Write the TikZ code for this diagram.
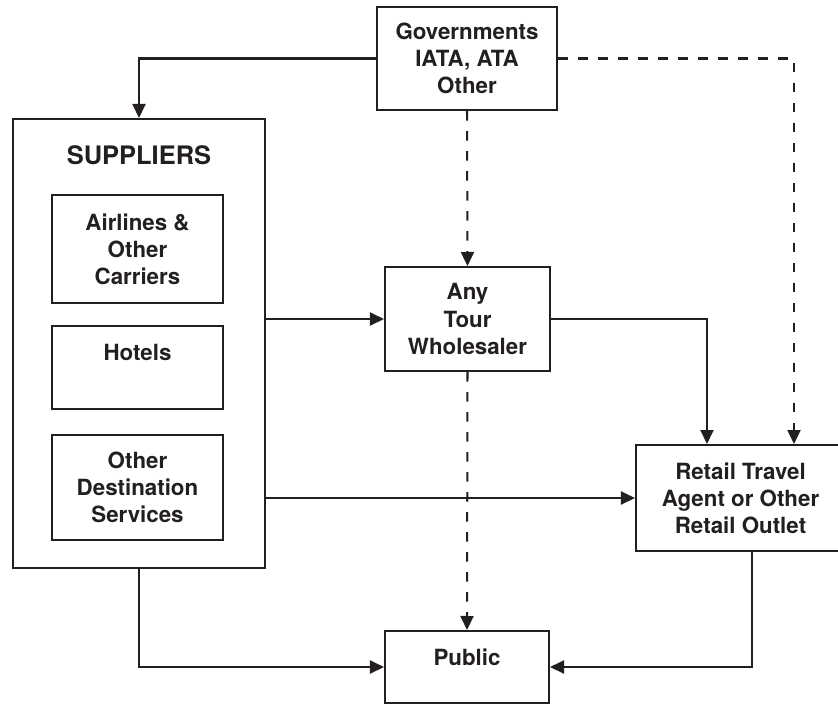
\documentclass[tikz,border=0pt]{standalone}
\usepackage{fontspec}
\setmainfont{TeX Gyre Heros}
\usetikzlibrary{arrows.meta}
\definecolor{ink}{RGB}{35,31,32}

\begin{document}
\begin{tikzpicture}[color=ink,line width=1.15pt]
\useasboundingbox (0,0) rectangle (16.76,-14.1);
\tikzstyle{arr}=[-{Triangle[length=0.28cm,width=0.26cm]}];
\tikzstyle{dashline}=[dash pattern=on 0.19cm off 0.21cm];
\tikzstyle{every node}=[draw,shape=rectangle,align=center,font=\bfseries\fontsize{12.7}{15.4}\selectfont];
\node[minimum width=3.6cm,minimum height=2.06cm] (gov) at (9.34,-1.17) {Governments\\IATA, ATA\\Other};
\node[minimum width=5.04cm,minimum height=8.98cm] (sup) at (2.78,-6.87) {};
\node[minimum width=3.42cm,minimum height=2.16cm] (air) at (2.75,-4.98) {Airlines \&\\Other\\Carriers};
\node[minimum width=3.42cm,minimum height=1.66cm] (hot) at (2.75,-7.35) {Hotels\\[2pt]\mbox{}};
\node[minimum width=3.42cm,minimum height=2.10cm] (oth) at (2.75,-9.75) {Other\\Destination\\Services};
\node[minimum width=3.3cm,minimum height=2.08cm] (whl) at (9.35,-6.38) {Any\\Tour\\Wholesaler};
\node[minimum width=4.18cm,minimum height=2.12cm] (ret) at (14.81,-9.96) {Retail Travel\\Agent or Other\\Retail Outlet};
\node[minimum width=3.28cm,minimum height=1.44cm] (pub) at (9.34,-13.34) {Public\\[-4pt]\mbox{}};
\tikzstyle{every node}=[];
\node[font=\bfseries\fontsize{14.5}{17}\selectfont] (suptitle) at (2.78,-3.10) {SUPPLIERS};
\draw[arr] (gov.west) -| (sup.north);
\draw[arr,dashline] (gov.south) -- (whl.north);
\draw[arr,dashline] (gov.east) -| ([xshift=-1.04cm]ret.north east);
\draw[arr] (whl.east) -| ([xshift=1.44cm]ret.north west);
\draw[arr] (sup.east |- whl.west) -- (whl.west);
\draw[arr] (sup.east |- ret.west) -- (ret.west);
\draw[arr,dashline] (whl.south) -- (pub.north);
\draw[arr] (sup.south) |- (pub.west);
\draw[arr] ([xshift=2.34cm]ret.south west) |- (pub.east);
\end{tikzpicture}
\end{document}
